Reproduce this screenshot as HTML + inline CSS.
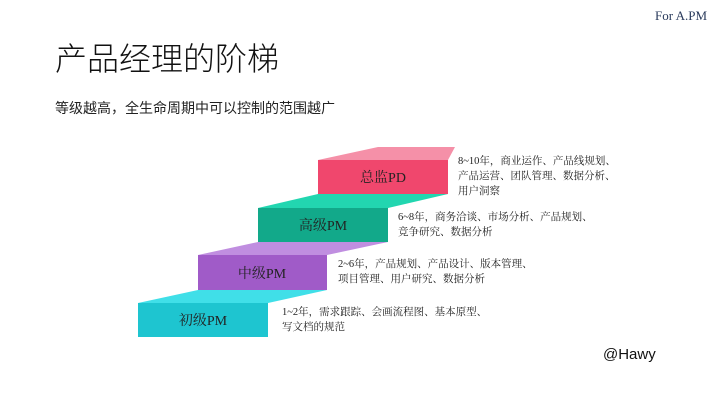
<!DOCTYPE html>
<html><head><meta charset="utf-8"><style>
body{margin:0;width:720px;height:405px;background:#fff;position:relative;overflow:hidden;font-family:"Liberation Sans","Noto Sans CJK SC",sans-serif}
.a{position:absolute;white-space:nowrap}
.d{font-family:"Liberation Serif","Noto Serif CJK SC",serif;font-size:10.5px;line-height:15px;color:#222}
</style></head><body>
<div class="a" style="left:655px;top:8px;font-family:'Liberation Serif',serif;font-size:13px;color:#2a3b5c">For A.PM</div>
<div class="a" style="left:55px;top:38px;font-size:32px;line-height:42px;color:#111;font-weight:300">产品经理的阶梯</div>
<div class="a" style="left:55px;top:99px;font-size:14px;line-height:18px;color:#222">等级越高，全生命周期中可以控制的范围越广</div>
<svg class="a" style="left:0;top:0" width="720" height="405">
<polygon points="318,160 448,160 455,147 378,147" fill="#f590a8"/>
<rect x="318" y="160" width="130" height="34" fill="#f0476d"/>
<polygon points="258,208 388,208 448,194 318,194" fill="#22d6b0"/>
<rect x="258" y="208" width="130" height="34" fill="#12a98a"/>
<polygon points="198,255 327,255 388,242 258,242" fill="#c08ee0"/>
<rect x="198" y="255" width="129" height="35" fill="#a05bc8"/>
<polygon points="138,303 268,303 327,290 198,290" fill="#40dfe8"/>
<rect x="138" y="303" width="130" height="34" fill="#1ec5d0"/>
<g font-family="Liberation Serif,Noto Serif CJK SC,serif" font-size="14" fill="#222" text-anchor="middle">
<text x="383" y="182">总监PD</text>
<text x="323" y="230">高级PM</text>
<text x="262" y="278">中级PM</text>
<text x="203" y="325">初级PM</text>
</g>
</svg>
<div class="a d" style="left:458px;top:154px">8~10年，商业运作、产品线规划、<br>产品运营、团队管理、数据分析、<br>用户洞察</div>
<div class="a d" style="left:398px;top:210px">6~8年，商务洽谈、市场分析、产品规划、<br>竞争研究、数据分析</div>
<div class="a d" style="left:338px;top:257px">2~6年，产品规划、产品设计、版本管理、<br>项目管理、用户研究、数据分析</div>
<div class="a d" style="left:282px;top:305px">1~2年，需求跟踪、会画流程图、基本原型、<br>写文档的规范</div>
<div class="a" style="left:603px;top:346px;font-size:15px;color:#111">@Hawy</div>
</body></html>
